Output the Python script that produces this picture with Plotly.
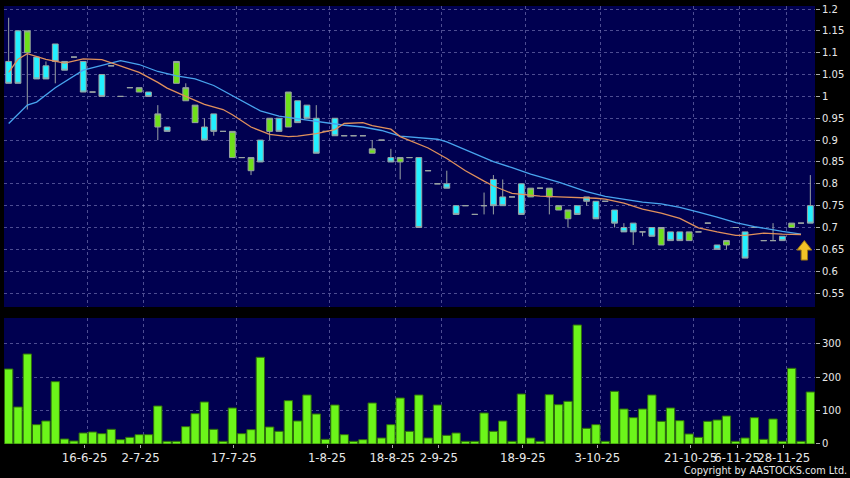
import plotly.graph_objects as go

# ---------------- data ----------------
tick_labels = ["16-6-25", "2-7-25", "17-7-25", "1-8-25", "18-8-25", "2-9-25",
               "18-9-25", "3-10-25", "21-10-25", "6-11-25", "28-11-25"]
tick_bar_index = [8, 14, 24, 34, 41, 46, 55, 63, 73, 78, 83]

open_ = [1.08, 1.15, 1.10, 1.09, 1.07, 1.12, 1.08, 1.09, 1.08, 1.01,
         1.05, 1.07, 1.00, 1.02, 1.01, 1.01, 0.93, 0.93, 1.03, 0.99,
         0.94, 0.93, 0.96, 0.92, 0.86, 0.86, 0.83, 0.90, 0.92, 0.95,
         0.93, 0.99, 0.98, 0.95, 0.92, 0.95, 0.91, 0.91, 0.91, 0.87,
         0.90, 0.86, 0.85, 0.86, 0.86, 0.83, 0.80, 0.80, 0.75, 0.75,
         0.73, 0.75, 0.81, 0.77, 0.77, 0.80, 0.77, 0.79, 0.77, 0.74,
         0.72, 0.75, 0.77, 0.76, 0.76, 0.74, 0.70, 0.71, 0.69, 0.70,
         0.66, 0.69, 0.69, 0.67, 0.69, 0.71, 0.66, 0.66, 0.70, 0.69,
         0.70, 0.67, 0.67, 0.68, 0.70, 0.71, 0.75]
high = [1.18, 1.15, 1.15, 1.09, 1.08, 1.12, 1.08, 1.09, 1.08, 1.01,
        1.05, 1.07, 1.00, 1.02, 1.02, 1.01, 0.98, 0.93, 1.08, 1.03,
        0.98, 0.95, 0.96, 0.92, 0.92, 0.86, 0.86, 0.90, 0.95, 0.95,
        1.01, 0.99, 0.98, 0.98, 0.92, 0.95, 0.91, 0.91, 0.91, 0.90,
        0.90, 0.88, 0.86, 0.86, 0.86, 0.83, 0.80, 0.83, 0.75, 0.75,
        0.73, 0.78, 0.82, 0.81, 0.77, 0.80, 0.79, 0.79, 0.79, 0.75,
        0.74, 0.75, 0.77, 0.76, 0.76, 0.74, 0.71, 0.71, 0.69, 0.70,
        0.70, 0.69, 0.69, 0.69, 0.69, 0.71, 0.66, 0.67, 0.70, 0.69,
        0.70, 0.67, 0.71, 0.68, 0.71, 0.71, 0.82]
low = [1.03, 1.03, 0.97, 1.04, 1.04, 1.03, 1.06, 1.09, 1.01, 1.01,
       1.00, 1.07, 1.00, 1.02, 1.01, 1.00, 0.90, 0.92, 1.03, 0.99,
       0.94, 0.90, 0.91, 0.92, 0.86, 0.86, 0.82, 0.85, 0.90, 0.92,
       0.93, 0.94, 0.95, 0.87, 0.92, 0.91, 0.91, 0.91, 0.91, 0.87,
       0.90, 0.85, 0.81, 0.86, 0.70, 0.83, 0.80, 0.79, 0.73, 0.75,
       0.73, 0.73, 0.73, 0.75, 0.77, 0.73, 0.77, 0.79, 0.73, 0.74,
       0.70, 0.73, 0.75, 0.72, 0.76, 0.70, 0.69, 0.66, 0.68, 0.68,
       0.66, 0.67, 0.67, 0.67, 0.69, 0.71, 0.65, 0.65, 0.70, 0.63,
       0.70, 0.67, 0.67, 0.67, 0.70, 0.71, 0.71]
close = [1.03, 1.03, 1.15, 1.04, 1.04, 1.08, 1.06, 1.09, 1.01, 1.01,
         1.00, 1.07, 1.00, 1.02, 1.02, 1.00, 0.96, 0.92, 1.08, 1.02,
         0.98, 0.90, 0.92, 0.92, 0.92, 0.86, 0.86, 0.85, 0.95, 0.92,
         1.01, 0.94, 0.95, 0.87, 0.92, 0.91, 0.91, 0.91, 0.91, 0.88,
         0.90, 0.85, 0.86, 0.86, 0.70, 0.83, 0.80, 0.79, 0.73, 0.75,
         0.73, 0.75, 0.75, 0.75, 0.77, 0.73, 0.79, 0.79, 0.79, 0.75,
         0.74, 0.73, 0.76, 0.72, 0.76, 0.71, 0.69, 0.69, 0.69, 0.68,
         0.70, 0.67, 0.67, 0.69, 0.69, 0.71, 0.65, 0.67, 0.70, 0.63,
         0.70, 0.67, 0.67, 0.67, 0.71, 0.71, 0.71]
volume = [225, 111, 270, 58, 69, 187, 15, 9, 33, 36,
          31, 44, 13, 20, 28, 28, 114, 8, 8, 52,
          91, 126, 44, 8, 108, 31, 43, 260, 51, 38,
          130, 69, 147, 90, 14, 117, 28, 8, 13, 123,
          18, 58, 138, 38, 147, 18, 117, 26, 33, 8,
          8, 93, 38, 69, 8, 150, 18, 8, 148, 118,
          128, 357, 47, 58, 8, 158, 105, 79, 105, 147,
          68, 108, 70, 30, 20, 68, 72, 84, 8, 18,
          79, 14, 75, 8, 227, 8, 156]

ma_short_idx = [0, 1, 2, 4, 6, 8, 10, 12, 14, 16, 17, 19, 21, 23, 24, 26, 27, 28, 30, 31,
                33, 35, 36, 38, 39, 41, 42, 44, 45, 47, 49, 51, 52, 54, 57, 59, 61, 63, 64, 66,
                68, 70, 72, 74, 76, 78, 79, 81, 83, 85]
ma_short = [1.055, 1.085, 1.098, 1.085, 1.076, 1.086, 1.084, 1.070, 1.055, 1.032,
            1.019, 1.000, 0.982, 0.970, 0.958, 0.930, 0.921, 0.913, 0.908, 0.909,
            0.915, 0.924, 0.938, 0.940, 0.933, 0.925, 0.908, 0.891, 0.882, 0.858,
            0.830, 0.806, 0.795, 0.778, 0.772, 0.770, 0.769, 0.767, 0.765, 0.756,
            0.742, 0.733, 0.721, 0.699, 0.690, 0.682, 0.682, 0.687, 0.685, 0.684]
ma_long_idx = [0, 2, 3, 5, 8, 10, 12, 14, 16, 18, 20, 22, 25, 27, 29, 31, 34, 36, 38, 40,
               42, 44, 46, 47, 49, 52, 54, 56, 59, 60, 62, 64, 66, 68, 70, 72, 74, 76, 78, 80,
               83, 85]
ma_long = [0.938, 0.980, 0.987, 1.020, 1.060, 1.071, 1.082, 1.073, 1.057, 1.047,
           1.040, 1.025, 0.990, 0.967, 0.955, 0.949, 0.940, 0.934, 0.930, 0.922,
           0.909, 0.906, 0.902, 0.896, 0.878, 0.851, 0.837, 0.822, 0.804, 0.797,
           0.782, 0.771, 0.764, 0.758, 0.754, 0.746, 0.735, 0.724, 0.711, 0.702,
           0.691, 0.685]

price_ticks = [0.55, 0.6, 0.65, 0.7, 0.75, 0.8, 0.85, 0.9, 0.95, 1.0, 1.05, 1.1, 1.15, 1.2]
volume_ticks = [0, 100, 200, 300]

# ---------------- styling ----------------
FONT = "DejaVu Sans"
GRID = "rgba(140,140,200,0.55)"
DASH = "3px,3px"
TXT = "#e8e8e8"

n = len(close)
xs = list(range(n))
grid_vals = [i + 0.45 for i in tick_bar_index]
label_vals = [i + 0.15 for i in tick_bar_index]

fig = go.Figure()

fig.add_trace(go.Candlestick(
    x=xs, open=open_, high=high, low=low, close=close,
    xaxis="x", yaxis="y",
    increasing=dict(fillcolor="#6ee01a", line=dict(color="#9aa3a3", width=1)),
    decreasing=dict(fillcolor="#22f0ff", line=dict(color="#9aa3a3", width=1)),
    whiskerwidth=0, hoverinfo="skip",
))
fig.add_trace(go.Scatter(x=ma_long_idx, y=ma_long, mode="lines",
                         line=dict(color="#48a4ee", width=1.3), xaxis="x", yaxis="y",
                         hoverinfo="skip"))
fig.add_trace(go.Scatter(x=ma_short_idx, y=ma_short, mode="lines",
                         line=dict(color="#e0905c", width=1.3), xaxis="x", yaxis="y",
                         hoverinfo="skip"))
fig.add_trace(go.Bar(x=xs, y=volume, xaxis="x2", yaxis="y2",
                     marker=dict(color="#6cf51a", line=dict(color="#2f6e0c", width=1)),
                     hoverinfo="skip"))

tick_text_price = [("%g" % v) for v in price_ticks]

fig.update_layout(
    width=850, height=478,
    margin=dict(l=4, r=35, t=6, b=34, autoexpand=False),
    paper_bgcolor="#000000", plot_bgcolor="#000050",
    showlegend=False, bargap=0.11, boxgap=0.11,
    font=dict(family=FONT, color=TXT, size=10),
    xaxis=dict(domain=[0, 1], anchor="y", range=[-0.5, n - 0.5], automargin=False,
               rangeslider=dict(visible=False),
               tickmode="array", tickvals=grid_vals, showticklabels=False, ticks="",
               showgrid=True, gridcolor=GRID, griddash=DASH, gridwidth=1,
               zeroline=False, showline=False),
    xaxis2=dict(domain=[0, 1], anchor="y2", matches="x", range=[-0.5, n - 0.5],
                automargin=False, tickangle=0,
                tickmode="array", tickvals=label_vals, ticktext=tick_labels,
                ticks="outside", ticklen=3, tickcolor="#aaaaaa",
                tickfont=dict(size=11.7, color=TXT, family=FONT),
                showgrid=False, zeroline=False, showline=False,
                minor=dict(tickmode="array", tickvals=grid_vals, showgrid=True,
                           gridcolor=GRID, griddash=DASH, gridwidth=1, ticks="")),
    yaxis=dict(domain=[0.3128, 1], anchor="x", side="right", automargin=False,
               range=[0.5181, 1.2069], tickmode="array",
               tickvals=price_ticks, ticktext=tick_text_price,
               ticks="outside", ticklen=4, tickcolor="#aaaaaa",
               tickfont=dict(size=10, color=TXT, family=FONT),
               showgrid=True, gridcolor=GRID, griddash=DASH, gridwidth=1,
               zeroline=False, showline=False),
    yaxis2=dict(domain=[0, 0.2877], anchor="x2", side="right", automargin=False,
                range=[0, 378], tickmode="array", tickvals=volume_ticks,
                ticks="outside", ticklen=4, tickcolor="#aaaaaa",
                tickfont=dict(size=10, color=TXT, family=FONT),
                showgrid=True, gridcolor=GRID, griddash=DASH, gridwidth=1,
                zeroline=False, showline=False),
    annotations=[dict(text="Copyright by AASTOCKS.com Ltd.", xref="paper", yref="paper",
                      x=1.0419, y=-0.0616, xanchor="right", yanchor="middle",
                      showarrow=False, font=dict(size=9.7, color=TXT, family=FONT))],
    shapes=[dict(type="path", xref="x", yref="y", xsizemode="pixel", ysizemode="pixel",
                 xanchor=n - 1, yanchor=ma_long[-1],
                 path="M -6,-6.5 L 1.5,-16 L -2.8,-16 L -2.8,-26 L -9.2,-26 L -9.2,-16 L -13.5,-16 Z",
                 fillcolor="#f2c227", line=dict(color="#9a7412", width=1))],
)

fig.write_html("out.html",
               config={"displayModeBar": False},
               post_script="document.body.style.margin='0px';document.body.style.background='#000';")
